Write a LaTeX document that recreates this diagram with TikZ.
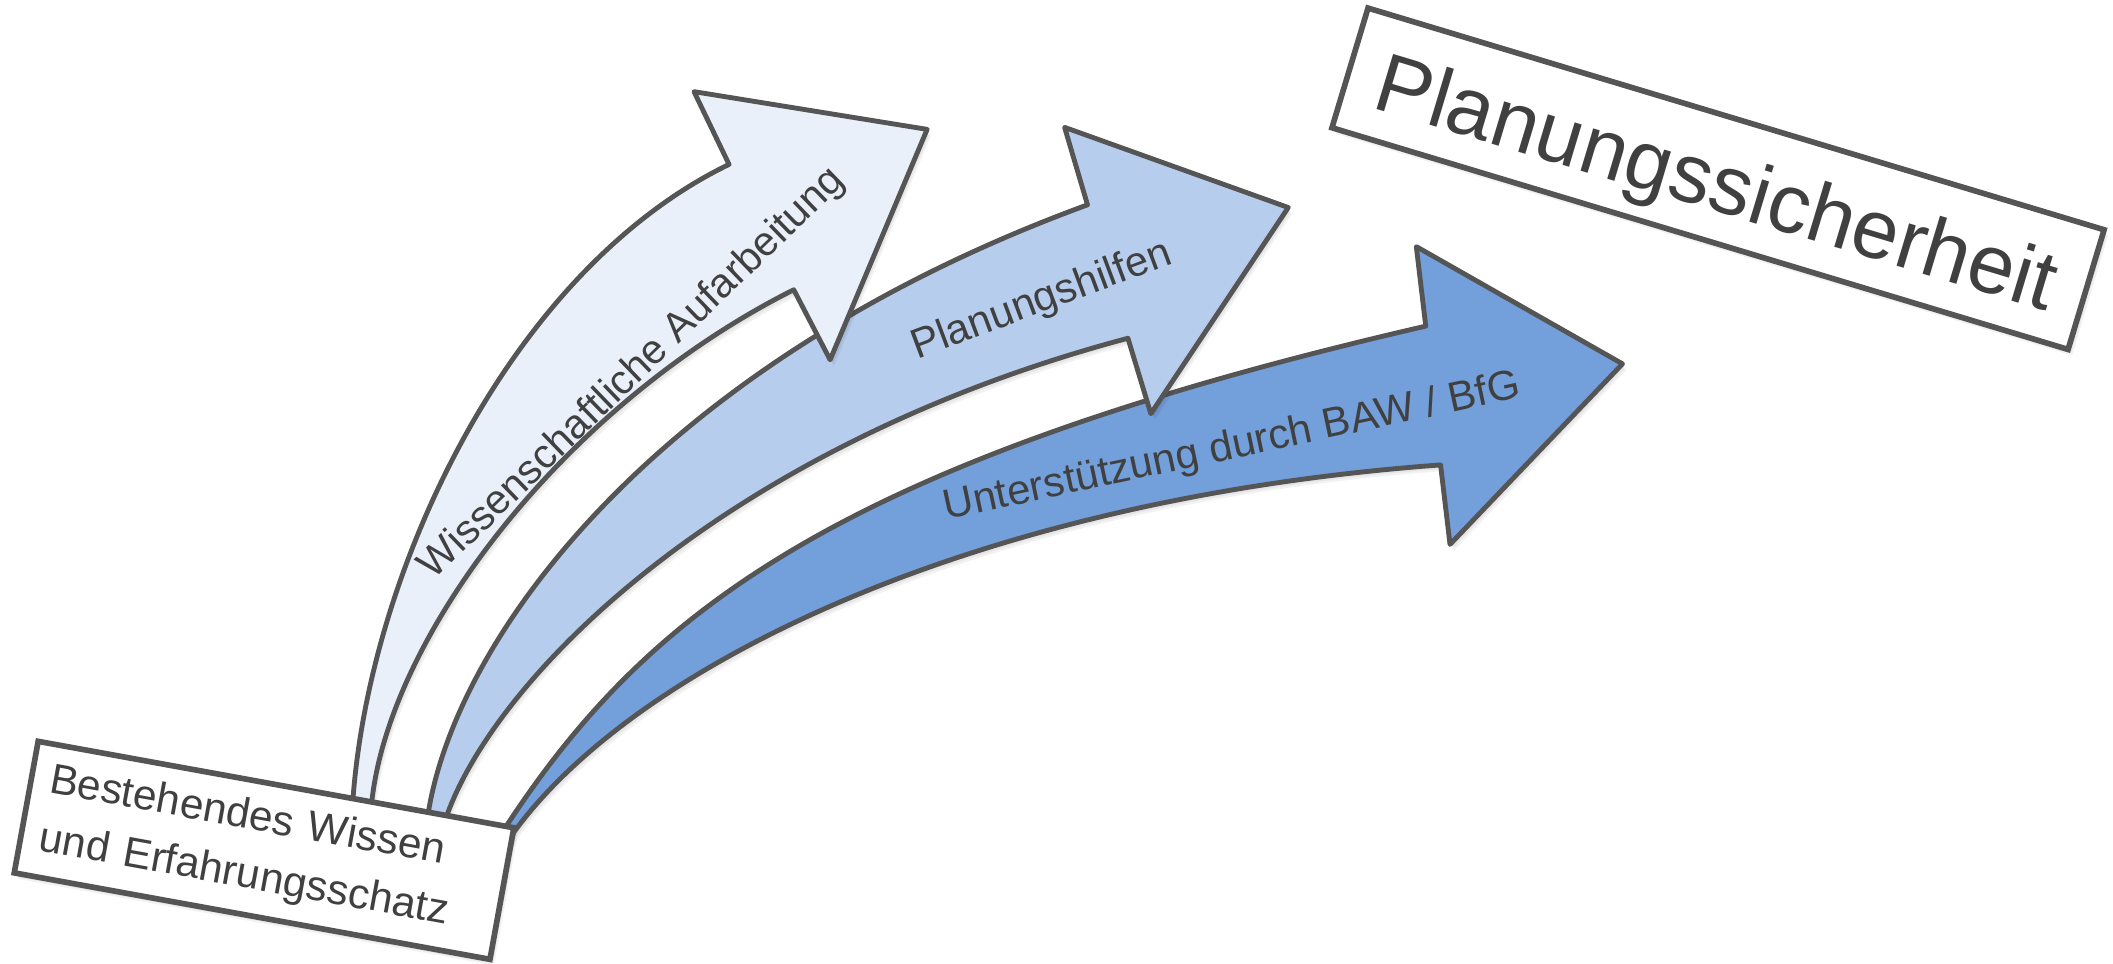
\documentclass[tikz,border=0pt]{standalone}
\usepackage{fontspec}
\setmainfont{Liberation Sans}
\definecolor{edgegray}{HTML}{555555}
\definecolor{txtgray}{HTML}{404040}
\definecolor{fillA}{HTML}{E9F0F9}
\definecolor{fillB}{HTML}{B7CDED}
\definecolor{fillC}{HTML}{739FDB}
\begin{document}
\begin{tikzpicture}[x=1pt,y=-1pt,
  softshadow/.style={
    preaction={fill=black, opacity=0.05, transform canvas={xshift=1pt,yshift=-1.5pt}},
    preaction={fill=black, opacity=0.05, transform canvas={xshift=2pt,yshift=-3pt}},
    preaction={fill=black, opacity=0.05, transform canvas={xshift=3pt,yshift=-4.5pt}}},
  blockarrow/.style={draw=edgegray, line width=3.6pt, line join=round, softshadow},
  arrowlabel/.style={text=txtgray, font=\fontsize{31}{37}\selectfont, inner sep=0pt},
  infobox/.style={draw=edgegray, line width=4.2pt, fill=white, text=txtgray, softshadow}
]
\useasboundingbox (0,0) rectangle (1568,715);

% arrow 3 (bottom)
\path[blockarrow, fill=fillC] (372,619.5) -- (377,611)
  .. controls (480,455) and (620,343) .. (1058,242)
  -- (1051,183) -- (1204,270) -- (1076,404) -- (1069,345)
  .. controls (720,370.5) and (470,495) .. (381,618)
  -- (377,627) -- cycle;
\node[arrowlabel, rotate=12] (lc) at (914.3,332.3) {Unterstützung durch BAW / BfG};

% arrow 2 (middle)
\path[blockarrow, fill=fillB] (317,612) -- (318,602)
  .. controls (340,470) and (490,268) .. (807,152)
  -- (790,94.5) -- (956,154) -- (854,307) -- (837,251)
  .. controls (540,330) and (370,500) .. (332,604)
  -- (330,613) -- cycle;
\node[arrowlabel, rotate=20.5] (lb) at (773,223.5) {Planungshilfen};

% arrow 1 (top)
\path[blockarrow, fill=fillA] (261,601) -- (262,592)
  .. controls (275,420) and (380,200) .. (541,122)
  -- (515,68) -- (688,96) -- (616,267) -- (589,215)
  .. controls (420,300) and (290,470) .. (276,594)
  -- (275,603) -- cycle;
\node[arrowlabel, rotate=44, font=\fontsize{30.5}{37}\selectfont] (la) at (469.5,277.5) {Wissenschaftliche Aufarbeitung};

% boxes
\node[infobox, rotate=-10.3, minimum width=358.8pt, minimum height=99.2pt,
      inner xsep=14pt, inner ysep=0pt, text width=330.8pt, align=left,
      font=\fontsize{31.5}{43.4}\selectfont] (src) at (195.95,631)
  {Bestehendes Wissen\\und Erfahrungsschatz};

\node[infobox, rotate=-16.76, minimum width=570.5pt, minimum height=92.75pt,
      inner sep=0pt, text height=55pt, text depth=7.6pt,
      font=\fontsize{62}{70}\selectfont] (goal) at (1274.9,132.65)
  {Planungssicherheit};
\end{tikzpicture}
\end{document}
